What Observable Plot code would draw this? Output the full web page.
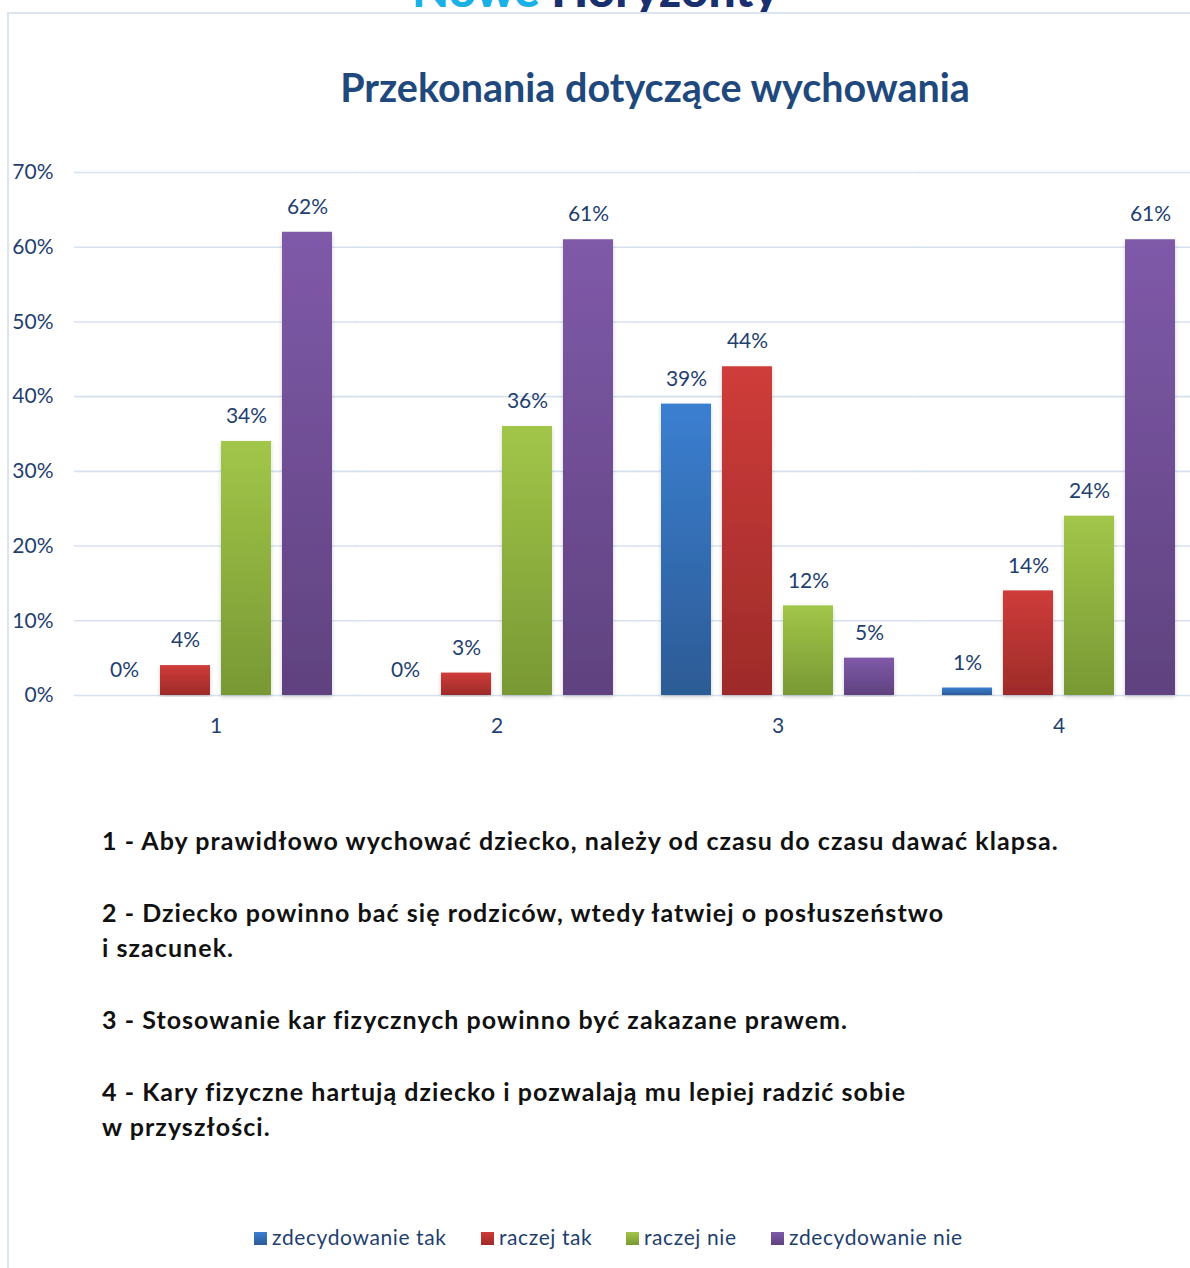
<!DOCTYPE html>
<html>
<head>
<meta charset="utf-8">
<script src="https://cdn.jsdelivr.net/npm/d3@7"></script>
<script src="https://cdn.jsdelivr.net/npm/@observablehq/plot@0.6"></script>
<style>
  html, body { margin: 0; padding: 0; background: #fff; }
  body { width: 1190px; height: 1268px; position: relative; overflow: hidden; font-family: Lato, "Open Sans", sans-serif; }
  #logo { position: absolute; left: 0; top: 0; width: 1190px; height: 12px; overflow: hidden; }
  #logo div { position: absolute; left: 412px; top: -40px; font-size: 48px; font-weight: 900; white-space: nowrap; }
  #frame-top { position: absolute; left: 8px; top: 12px; width: 1182px; height: 2px; background: #dbe4ef; }
  #frame-left { position: absolute; left: 7px; top: 12px; width: 2px; height: 1256px; background: #dbe4ef; }
  #title { position: absolute; left: 0; width: 1310px; top: 63px; text-align: center; font-size: 39.5px; font-weight: 700; color: #1f497d; }
  #chart { position: absolute; left: 0; top: 150px; width: 1190px; height: 600px; overflow: hidden; }
  #chart svg { max-width: none !important; }
  #notes { position: absolute; left: 102px; top: 823px; font-size: 25px; letter-spacing: 1.05px; font-weight: 700; color: #111; line-height: 35px; }
  #notes p { margin: 0 0 37px 0; }
  #legend { position: absolute; left: 254px; top: 1224px; font-size: 21px; letter-spacing: 0.6px; color: #1f3f6f; white-space: nowrap; }
  #legend span.item { position: absolute; top: 0; }
  #legend span.sw { display: inline-block; width: 13px; height: 13px; margin-right: 5px; vertical-align: 0px; }
</style>
</head>
<body>
<div id="logo"><div><span style="color:#1bb1e7">Nowe</span> <span style="color:#1a2f6e">Horyzonty</span></div></div>
<div id="frame-top"></div>
<div id="frame-left"></div>
<div id="title">Przekonania dotyczące wychowania</div>
<div id="chart"></div>
<div id="notes"></div>
<div id="legend"></div>
<script>
const categories = ["1", "2", "3", "4"];
const seriesNames = ["zdecydowanie tak", "raczej tak", "raczej nie", "zdecydowanie nie"];
const zdecydowanieTak = [0, 0, 39, 1];
const raczejTak = [4, 3, 44, 14];
const raczejNie = [34, 36, 12, 24];
const zdecydowanieNie = [62, 61, 5, 61];
const yTicks = [0, 10, 20, 30, 40, 50, 60, 70];
const notes = [
  "1 - Aby prawidłowo wychować dziecko, należy od czasu do czasu dawać klapsa.",
  "2 - Dziecko powinno bać się rodziców, wtedy łatwiej o posłuszeństwo<br>i szacunek.",
  "3 - Stosowanie kar fizycznych powinno być zakazane prawem.",
  "4 - Kary fizyczne hartują dziecko i pozwalają mu lepiej radzić sobie<br>w przyszłości."
];
const seriesColors = ["#3a7bcc", "#c83a37", "#9bc145", "#7a56a3"];
const gradStops = [
  ["#3b7fd1", "#2c5b95"],
  ["#cf3c3a", "#9d2b29"],
  ["#a2c649", "#789834"],
  ["#7f5aa9", "#5f427f"]
];
const textColor = "#1f3f6f";

const seriesValues = [zdecydowanieTak, raczejTak, raczejNie, zdecydowanieNie];
const data = [];
categories.forEach((c, i) => {
  seriesNames.forEach((s, j) => {
    data.push({q: c, s: s, v: seriesValues[j][i] / 100});
  });
});

const svg = Plot.plot({
  width: 1200,
  height: 600,
  marginTop: 22,
  marginBottom: 55,
  marginLeft: 75,
  marginRight: 1,
  facet: {marginTop: 0, marginRight: 0, marginBottom: 0, marginLeft: 0},
  style: {fontFamily: "Lato, 'Open Sans', sans-serif", color: textColor, background: "transparent", overflow: "visible", maxWidth: "none"},
  fx: {domain: categories, paddingInner: 0.0925, paddingOuter: 0.04626, round: false, label: null},
  x: {domain: seriesNames, paddingInner: 0.18, paddingOuter: 0.18, round: false, axis: null},
  y: {domain: [0, 0.7], axis: null},
  color: {domain: seriesNames, range: seriesColors},
  marks: [
    Plot.ruleY(yTicks.map(d => d / 100), {stroke: "#d7e2f0", strokeWidth: 1.6, insetLeft: -14, insetRight: -14}),
    Plot.axisY({
      ticks: yTicks.map(d => d / 100),
      tickFormat: d => Math.round(d * 100) + "%",
      tickSize: 0, tickPadding: 35, fontSize: 21, label: null, anchor: "left"
    }),
    Plot.axisFx({tickSize: 0, tickPadding: 23, fontSize: 21, label: null, anchor: "bottom"}),
    Plot.barY(data, {fx: "q", x: "s", y: "v", fill: "s"}),
    Plot.text(data, {
      fx: "q", x: "s", y: "v",
      text: d => Math.round(d.v * 100) + "%",
      dy: -25, lineAnchor: "middle", fontSize: 21, fill: textColor
    })
  ]
});

// gradients and shadow
const s = d3.select(svg);
s.style("max-width", "none");
const defs = s.insert("defs", ":first-child");
gradStops.forEach((g, i) => {
  const lg = defs.append("linearGradient").attr("id", "grad" + i)
    .attr("x1", 0).attr("y1", 0).attr("x2", 0).attr("y2", 1);
  lg.append("stop").attr("offset", "0%").attr("stop-color", g[0]);
  lg.append("stop").attr("offset", "100%").attr("stop-color", g[1]);
});
const f = defs.append("filter").attr("id", "shadow").attr("x", "-20%").attr("y", "-5%").attr("width", "140%").attr("height", "110%");
f.append("feDropShadow").attr("dx", 0).attr("dy", 2).attr("stdDeviation", 2).attr("flood-color", "#000").attr("flood-opacity", 0.18);
s.selectAll("rect").each(function() {
  const fill = (this.getAttribute("fill") || "").toLowerCase();
  const idx = seriesColors.indexOf(fill);
  if (idx >= 0) {
    this.setAttribute("fill", "url(#grad" + idx + ")");
    this.setAttribute("filter", "url(#shadow)");
  }
});

document.getElementById("chart").appendChild(svg);

document.getElementById("notes").innerHTML = notes.map(n => "<p>" + n + "</p>").join("");

const legendX = [0, 227, 372, 517];
document.getElementById("legend").innerHTML = seriesNames.map((n, i) =>
  `<span class="item" style="left:${legendX[i]}px"><span class="sw" style="background:linear-gradient(${gradStops[i][0]},${gradStops[i][1]})"></span>${n}</span>`
).join("");
</script>
</body>
</html>
